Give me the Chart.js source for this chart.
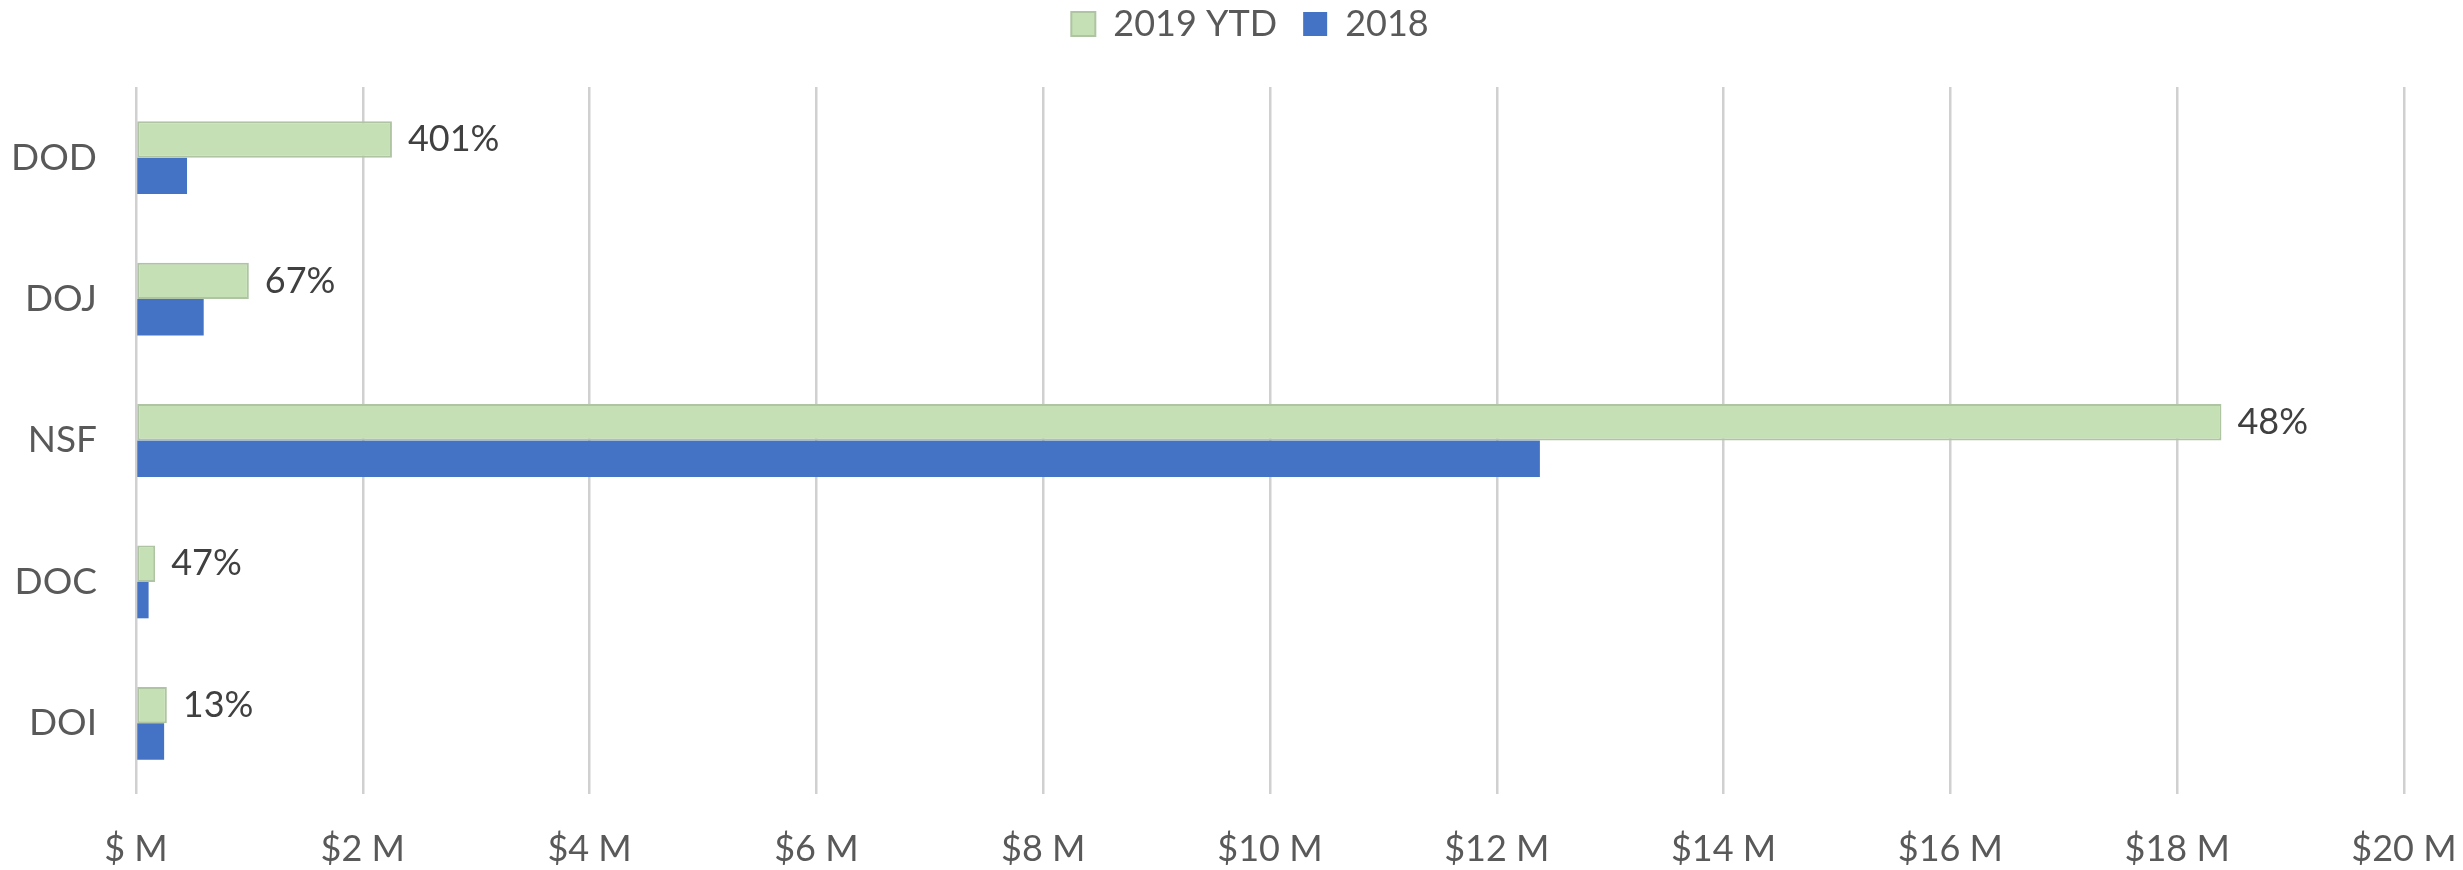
<!DOCTYPE html>
<html>
<head>
<meta charset="utf-8">
<script src="https://cdn.jsdelivr.net/npm/chart.js@4/dist/chart.umd.min.js"></script>
<style>
  html, body { margin: 0; padding: 0; background: #fff; }
  #wrap { width: 2463px; height: 870px; }
</style>
</head>
<body>
<div id="wrap"><canvas id="agencyChart"></canvas></div>
<script>
// Agencies and amounts in $ millions
const agencies = ["DOD", "DOJ", "NSF", "DOC", "DOI"];
const ytd2019 = [2.257, 0.995, 18.39, 0.169, 0.272];
const full2018 = [0.45, 0.597, 12.38, 0.111, 0.248];
const growthLabels = ["401%", "67%", "48%", "47%", "13%"];
const xTicks = [0, 2, 4, 6, 8, 10, 12, 14, 16, 18, 20];

const FONT = "Lato, 'Open Sans', sans-serif";
const GREY = "#595959";

// Draw the growth % next to each 2019 bar
const growthPlugin = {
  id: "growthLabels",
  afterDatasetsDraw(chart) {
    const ctx = chart.ctx;
    const meta = chart.getDatasetMeta(0);
    ctx.save();
    ctx.font = "36px " + FONT;
    ctx.fillStyle = "#404040";
    ctx.textAlign = "left";
    ctx.textBaseline = "middle";
    meta.data.forEach((bar, i) => {
      ctx.fillText(growthLabels[i], bar.x + 16, bar.y);
    });
    ctx.restore();
  },
};

// Legend takes more room below it than the default, and sits a bit right of centre
const legendSpacing = {
  id: "legendSpacing",
  beforeLayout(chart) {
    const legend = chart.legend;
    if (legend && !legend._tall) {
      const fit = legend.fit;
      legend.fit = function () {
        fit.call(this);
        this.height = 87;
      };
      legend._tall = true;
    }
  },
  afterLayout(chart) {
    const legend = chart.legend;
    if (!legend) return;
    legend.top -= 20;
    legend.left += 48;
    legend.right += 48;
  },
};

new Chart(document.getElementById("agencyChart").getContext("2d"), {
  type: "bar",
  data: {
    labels: agencies,
    datasets: [
      {
        label: "2019 YTD",
        data: ytd2019,
        backgroundColor: "#C5E0B4",
        borderColor: "#AFC4A2",
        borderWidth: 2,
        borderSkipped: false,
      },
      {
        label: "2018",
        data: full2018,
        backgroundColor: "#4472C4",
        borderWidth: 0,
      },
    ],
  },
  options: {
    indexAxis: "y",
    responsive: true,
    maintainAspectRatio: false,
    animation: false,
    categoryPercentage: 0.515,
    barPercentage: 1.0,
    layout: { padding: { left: 0, right: 59, top: 0, bottom: 0 } },
    plugins: {
      legend: {
        position: "top",
        labels: {
          font: { family: FONT, size: 36 },
          color: GREY,
          boxWidth: 24,
          boxHeight: 24,
          padding: 26,
        },
      },
      tooltip: { enabled: false },
    },
    scales: {
      x: {
        min: 0,
        max: 20,
        afterBuildTicks: (scale) => {
          scale.ticks = xTicks.map((v) => ({ value: v }));
        },
        afterFit: (scale) => {
          scale.height = 76;
          scale.paddingLeft = 0;
          scale.paddingRight = 0;
        },
        ticks: {
          font: { family: FONT, size: 36 },
          color: GREY,
          padding: 34,
          callback: (v) => (v === 0 ? "$ M" : "$" + v + " M"),
        },
        grid: { color: "#D0D0D0", lineWidth: 2.5, drawTicks: false },
        border: { display: false },
      },
      y: {
        afterFit: (scale) => {
          scale.width = 136;
        },
        ticks: {
          font: { family: FONT, size: 37 },
          color: GREY,
          padding: 31,
        },
        grid: { display: false },
        border: { display: false },
      },
    },
  },
  plugins: [growthPlugin, legendSpacing],
});
</script>
</body>
</html>
